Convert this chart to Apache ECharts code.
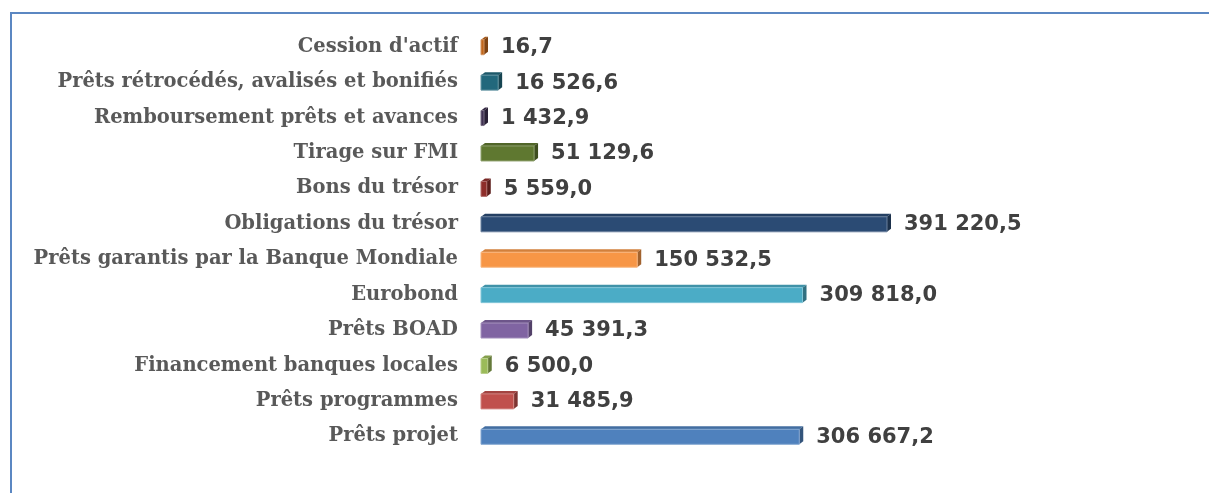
<!DOCTYPE html>
<html>
<head>
<meta charset="utf-8">
<script src="https://cdn.jsdelivr.net/npm/echarts@6/dist/echarts.min.js"></script>
<style>
  html, body { margin: 0; padding: 0; background: #fff; }
  #chart { width: 1209px; height: 493px; }
</style>
</head>
<body>
<div id="chart"></div>
<script>
// categories top to bottom
const categories = [
    "Cession d'actif",
    'Prêts rétrocédés, avalisés et bonifiés',
    'Remboursement prêts et avances',
    'Tirage sur FMI',
    'Bons du trésor',
    'Obligations du trésor',
    'Prêts garantis par la Banque Mondiale',
    'Eurobond',
    'Prêts BOAD',
    'Financement banques locales',
    'Prêts programmes',
    'Prêts projet'
];
const values = [16.7, 16526.6, 1432.9, 51129.6, 5559.0, 391220.5, 150532.5, 309818.0, 45391.3, 6500.0, 31485.9, 306667.2];
const barColors = ['#c0661c', '#22687c', '#3f3151', '#5f7830', '#8e2d2a', '#2b4b74', '#f79646', '#4bacc6', '#8064a2', '#9bbb59', '#c0504d', '#4f81bd'];

function fmt(v) {
    const parts = v.toFixed(1).split('.');
    const intPart = parts[0].replace(/\B(?=(\d{3})+(?!\d))/g, ' ');
    return intPart + ',' + parts[1];
}

// darken toward black / lighten toward white
function shade(c, t) {
    return t < 0
        ? echarts.color.lerp(-t, [c, '#000000'])
        : echarts.color.lerp(t, [c, '#ffffff']);
}

const chart = echarts.init(document.getElementById('chart'));

const depthX = 4;
const depthY = 3;
const faceH = 15;

function renderBar(params, api) {
    const idx = api.value(1);
    const val = api.value(0);
    const start = api.coord([0, idx]);
    const end = api.coord([val, idx]);
    const x0 = start[0];
    let x1 = end[0];
    if (x1 - x0 < 3) x1 = x0 + 3;
    const yTop = start[1] - 7;
    const yBot = yTop + faceH;
    const c = barColors[idx];
    return {
        type: 'group',
        children: [
            {
                type: 'polygon',
                shape: { points: [[x0, yTop], [x1, yTop], [x1 + depthX, yTop - depthY], [x0 + depthX, yTop - depthY]] },
                style: { fill: shade(c, -0.15) }
            },
            {
                type: 'polygon',
                shape: { points: [[x1, yTop], [x1 + depthX, yTop - depthY], [x1 + depthX, yBot - depthY], [x1, yBot]] },
                style: { fill: shade(c, -0.35) }
            },
            {
                type: 'rect',
                shape: { x: x0, y: yTop, width: x1 - x0, height: faceH },
                style: { fill: c, stroke: shade(c, 0.3), lineWidth: 1 }
            },
            {
                type: 'text',
                style: {
                    x: x1 + depthX + 13,
                    y: start[1] + 1,
                    text: fmt(val),
                    fill: '#404040',
                    font: 'bold 21px "DejaVu Sans"',
                    verticalAlign: 'middle',
                    align: 'left'
                }
            }
        ]
    };
}

const option = {
    animation: false,
    graphic: [
        {
            type: 'polyline',
            shape: { points: [[11, 493], [11, 13], [1209, 13]] },
            style: { stroke: '#5b87c2', lineWidth: 2, fill: null }
        }
    ],
    grid: {
        left: 481,
        right: 261,
        top: 29,
        bottom: 39,
        containLabel: false
    },
    xAxis: {
        type: 'value',
        min: 0,
        max: 450000,
        show: false
    },
    yAxis: {
        type: 'category',
        data: categories,
        inverse: true,
        axisLine: { show: false },
        axisTick: { show: false },
        axisLabel: {
            margin: 23,
            color: '#595959',
            fontFamily: 'DejaVu Serif',
            fontWeight: 'bold',
            fontSize: 19.5
        }
    },
    series: [
        {
            type: 'custom',
            renderItem: renderBar,
            encode: { x: 0, y: 1 },
            data: values.map((v, i) => [v, i])
        }
    ]
};
chart.setOption(option);
</script>
</body>
</html>
